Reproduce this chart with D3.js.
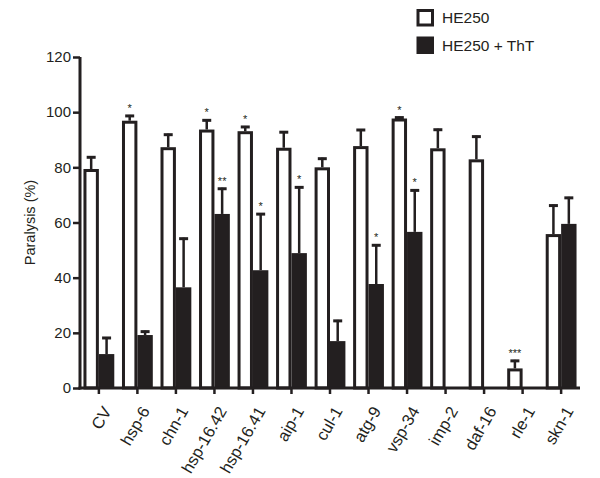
<!DOCTYPE html>
<html>
<head>
<meta charset="utf-8">
<script src="https://cdn.jsdelivr.net/npm/d3@7"></script>
<style>
  html, body { margin: 0; padding: 0; background: #fff; }
  svg { display: block; }
  text { font-family: "Liberation Sans", Arial, Helvetica, sans-serif; fill: #231f20; }
</style>
</head>
<body>
<svg id="chart" width="600" height="478"></svg>
<script>
const categories = ["CV","hsp-6","chn-1","hsp-16.42","hsp-16.41","aip-1","cul-1","atg-9","vsp-34","imp-2","daf-16","rle-1","skn-1"];
const seriesNames = ["HE250", "HE250 + ThT"];
const he250 = [79.4, 96.9, 87.3, 93.7, 93.1, 87.1, 80.0, 87.7, 97.7, 86.9, 82.9, 7.1, 55.8];
const he250Err = [4.6, 2.1, 4.9, 3.7, 1.9, 6.0, 3.5, 6.2, 0.7, 7.1, 8.6, 3.1, 10.7];
const tht = [12.3, 19.2, 36.5, 63.1, 42.7, 48.9, 17.0, 37.7, 56.6, 0, 0, 0, 59.5];
const thtErr = [6.2, 1.6, 18.0, 9.5, 20.7, 24.2, 7.7, 14.4, 15.4, 0, 0, 0, 9.8];
const sigHE = ["", "*", "", "*", "*", "", "", "", "*", "", "", "***", ""];
const sigThT = ["", "", "", "**", "*", "*", "", "*", "*", "", "", "", ""];
const yTicks = [0, 20, 40, 60, 80, 100, 120];
const yLabel = "Paralysis (%)";

const ink = "#231f20";
const svg = d3.select("#chart");

const x0 = d3.scaleBand().domain(categories).range([80, 580]).paddingInner(0.2).paddingOuter(0.09);
const x1 = d3.scaleBand().domain([0, 1]).range([0, x0.bandwidth()]);
const y = d3.scaleLinear().domain([0, 120]).range([388, 57]);

const rows = [];
categories.forEach((c, i) => {
  rows.push({cat: c, s: 0, v: he250[i], e: he250Err[i], sig: sigHE[i]});
  rows.push({cat: c, s: 1, v: tht[i], e: thtErr[i], sig: sigThT[i]});
});

const sw = 3;
const g = svg.append("g");

// bars
rows.filter(d => d.v > 0).forEach(d => {
  const bx = x0(d.cat) + x1(d.s);
  const bw = x1.bandwidth();
  if (d.s === 0) {
    g.append("rect")
      .attr("x", bx + sw / 2).attr("width", bw - sw)
      .attr("y", y(d.v) + sw / 2).attr("height", y(0) - y(d.v) - sw / 2)
      .attr("fill", "#fff").attr("stroke", ink).attr("stroke-width", sw);
  } else {
    g.append("rect")
      .attr("x", bx).attr("width", bw)
      .attr("y", y(d.v)).attr("height", y(0) - y(d.v))
      .attr("fill", ink);
  }
});

// error bars
rows.filter(d => d.v > 0 && d.e > 0).forEach(d => {
  const cx = x0(d.cat) + x1(d.s) + x1.bandwidth() / 2;
  const top = y(d.v + d.e);
  g.append("line").attr("x1", cx).attr("x2", cx).attr("y1", y(d.v)).attr("y2", top)
    .attr("stroke", ink).attr("stroke-width", 2.5);
  g.append("line").attr("x1", cx - 4.5).attr("x2", cx + 4.5).attr("y1", top + 1).attr("y2", top + 1)
    .attr("stroke", ink).attr("stroke-width", 3);
});

// significance
rows.filter(d => d.sig).forEach(d => {
  const cx = x0(d.cat) + x1(d.s) + x1.bandwidth() / 2;
  g.append("text").attr("x", cx).attr("y", y(d.v + d.e) - 3)
    .attr("text-anchor", "middle").attr("font-size", 11).attr("fill", "#333").text(d.sig);
});

// y axis
const yAxis = d3.axisLeft(y).tickValues(yTicks).tickSize(7).tickSizeOuter(0).tickPadding(2);
const ya = svg.append("g").attr("transform", "translate(80,0)").call(yAxis);
ya.select(".domain").attr("stroke", ink).attr("stroke-width", 3).attr("d", `M0,${y(120)}V${y(0) + 1.5}`);
ya.selectAll(".tick line").attr("stroke", ink).attr("stroke-width", 2.5);
ya.selectAll(".tick text").attr("font-size", 15).attr("font-family", "Liberation Sans, Arial, sans-serif").attr("fill", ink);

// x axis
const xAxis = d3.axisBottom(x0).tickSize(6).tickSizeOuter(0);
const xa = svg.append("g").attr("transform", `translate(0,${y(0)})`).call(xAxis);
xa.select(".domain").attr("stroke", ink).attr("stroke-width", 3).attr("d", "M78.5,0H580");
xa.selectAll(".tick line").attr("stroke", ink).attr("stroke-width", 2.5);
xa.selectAll(".tick text")
  .attr("font-size", 16.5).attr("font-family", "Liberation Sans, Arial, sans-serif").attr("fill", ink)
  .attr("text-anchor", "end")
  .attr("x", 0).attr("y", 0).attr("dy", "0.35em")
  .attr("transform", "translate(8,20) rotate(-60)");

// y label
svg.append("text")
  .attr("transform", `translate(35,${(y(0) + y(120)) / 2}) rotate(-90)`)
  .attr("text-anchor", "middle").attr("font-size", 14.5).text(yLabel);

// legend
const leg = svg.append("g");
seriesNames.forEach((n, i) => {
  const ly = 9 + i * 27.5;
  if (i === 0) {
    leg.append("rect").attr("x", 418).attr("y", ly + 1.5).attr("width", 14.5).attr("height", 14.5)
      .attr("fill", "#fff").attr("stroke", ink).attr("stroke-width", 3);
  } else {
    leg.append("rect").attr("x", 416.5).attr("y", ly).attr("width", 17.5).attr("height", 17.5).attr("fill", ink);
  }
  leg.append("text").attr("x", 442).attr("y", ly + 9).attr("dy", "0.35em").attr("font-size", 15.5).text(n);
});
</script>
</body>
</html>
